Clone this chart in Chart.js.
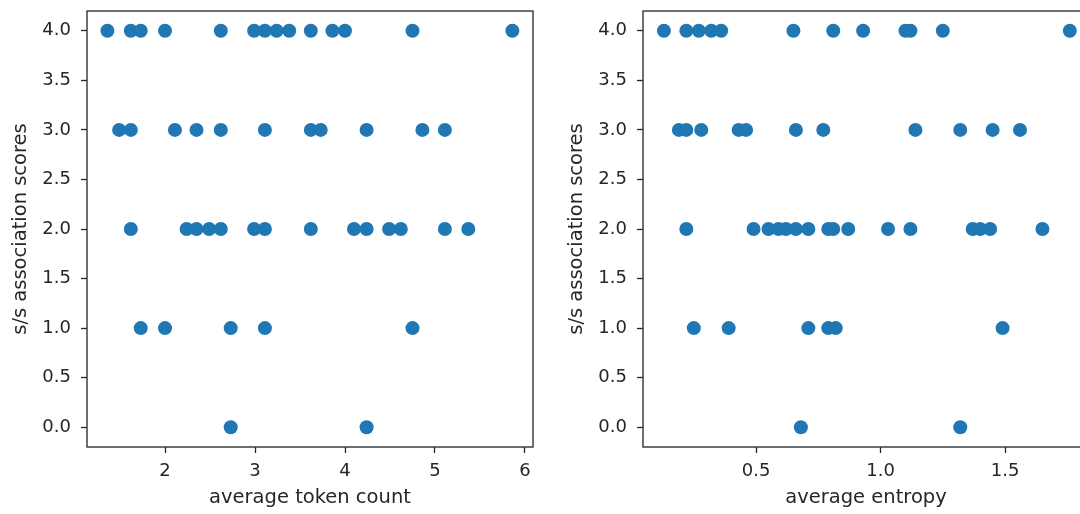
<!DOCTYPE html>
<html>
<head>
<meta charset="utf-8">
<script src="https://cdn.jsdelivr.net/npm/chart.js@4.4.0/dist/chart.umd.min.js"></script>
<style>
  html, body { margin: 0; padding: 0; background: #fff; width: 1080px; height: 514px; overflow: hidden; }
  .panel { position: absolute; top: 0; width: 540px; height: 514px; }
</style>
</head>
<body>
<div class="panel" style="left:0"><canvas id="tokenChart" width="540" height="514"></canvas></div>
<div class="panel" style="left:556px"><canvas id="entropyChart" width="540" height="514"></canvas></div>
<script>
// score levels on the y axis
const scoreLevels = [4, 3, 2, 1, 0];

// left panel: average token count, one array per score level
const tokenAt4 = [1.36, 1.62, 1.73, 2.00, 2.62, 2.99, 3.11, 3.24, 3.38, 3.62, 3.86, 4.00, 4.75, 5.86];
const tokenAt3 = [1.49, 1.62, 2.11, 2.35, 2.62, 3.11, 3.62, 3.73, 4.24, 4.86, 5.11];
const tokenAt2 = [1.62, 2.24, 2.35, 2.49, 2.62, 2.99, 3.11, 3.62, 4.10, 4.24, 4.49, 4.62, 5.11, 5.37];
const tokenAt1 = [1.73, 2.00, 2.73, 3.11, 4.75];
const tokenAt0 = [2.73, 4.24];

// right panel: average entropy, one array per score level
const entropyAt4 = [0.13, 0.22, 0.27, 0.32, 0.36, 0.65, 0.81, 0.93, 1.10, 1.12, 1.25, 1.76];
const entropyAt3 = [0.19, 0.22, 0.28, 0.43, 0.46, 0.66, 0.77, 1.14, 1.32, 1.45, 1.56];
const entropyAt2 = [0.22, 0.49, 0.55, 0.59, 0.62, 0.66, 0.71, 0.79, 0.81, 0.87, 1.03, 1.12, 1.37, 1.40, 1.44, 1.65];
const entropyAt1 = [0.25, 0.39, 0.71, 0.79, 0.82, 1.49];
const entropyAt0 = [0.68, 1.32];

// tick labels
const scoreTicks = [0, 0.5, 1, 1.5, 2, 2.5, 3, 3.5, 4];
const tokenTicks = [2, 3, 4, 5, 6];
const entropyTicks = [0.5, 1.0, 1.5];

const BLUE = '#1f77b4';
const INK = '#262626';
const FRAME = '#333333';
const FONT = '"DejaVu Sans", sans-serif';

function toPoints(rows) {
    const pts = [];
    rows.forEach((xs, i) => xs.forEach(x => pts.push({ x: x, y: scoreLevels[i] })));
    return pts;
}

// matplotlib style box around the axes
const framePlugin = {
    id: 'frame',
    afterDatasetsDraw(chart) {
        const { ctx, chartArea: a } = chart;
        ctx.save();
        ctx.strokeStyle = FRAME;
        ctx.lineWidth = 1.4;
        ctx.strokeRect(a.left, a.top, a.right - a.left, a.bottom - a.top);
        ctx.restore();
    }
};

function makeChart(id, points, xMin, xMax, xTicks, xTitle, xFmt) {
    const tickGrid = { drawOnChartArea: false, drawTicks: true, tickLength: 6, tickColor: INK, tickWidth: 1.3 };
    new Chart(document.getElementById(id), {
        type: 'scatter',
        data: {
            datasets: [{
                data: points,
                backgroundColor: BLUE,
                borderColor: BLUE,
                pointRadius: 7,
                pointBorderWidth: 0,
                pointHoverRadius: 7
            }]
        },
        options: {
            responsive: false,
            animation: false,
            events: [],
            layout: { padding: { top: 11, right: 7, left: 0, bottom: 0 } },
            plugins: { legend: { display: false }, tooltip: { enabled: false } },
            scales: {
                x: {
                    type: 'linear',
                    min: xMin, max: xMax,
                    afterBuildTicks: s => { s.ticks = xTicks.map(v => ({ value: v })); },
                    afterFit: s => { s.height = 67; s.paddingLeft = 0; s.paddingRight = 0; },
                    grid: tickGrid,
                    border: { display: false },
                    ticks: { callback: xFmt, color: INK, font: { family: FONT, size: 18 }, padding: 8, maxRotation: 0, autoSkip: false },
                    title: { display: true, text: xTitle, color: INK, font: { family: FONT, size: 19.5, lineHeight: 1.2 }, padding: { top: 0, bottom: 4 } }
                },
                y: {
                    type: 'linear',
                    min: -0.2, max: 4.2,
                    afterBuildTicks: s => { s.ticks = scoreTicks.map(v => ({ value: v })); },
                    afterFit: s => { s.width = 87; s.paddingTop = 0; s.paddingBottom = 0; },
                    grid: tickGrid,
                    border: { display: false },
                    ticks: { callback: v => v.toFixed(1), color: INK, font: { family: FONT, size: 18 }, padding: 10, autoSkip: false },
                    title: { display: true, text: 's/s association scores', color: INK, font: { family: FONT, size: 19.5, lineHeight: 1.2 }, padding: { top: 9, bottom: 0 } }
                }
            }
        },
        plugins: [framePlugin]
    });
}

makeChart('tokenChart',
    toPoints([tokenAt4, tokenAt3, tokenAt2, tokenAt1, tokenAt0]),
    1.133, 6.089, tokenTicks, 'average token count', v => String(v));

makeChart('entropyChart',
    toPoints([entropyAt4, entropyAt3, entropyAt2, entropyAt1, entropyAt0]),
    0.046, 1.837, entropyTicks, 'average entropy', v => v.toFixed(1));
</script>
</body>
</html>
